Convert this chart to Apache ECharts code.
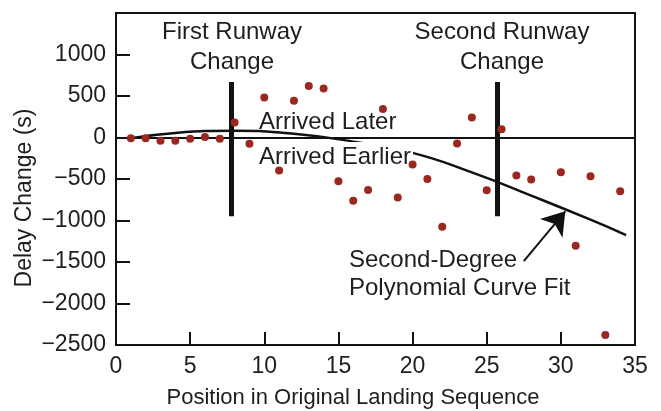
<!DOCTYPE html>
<html>
<head>
<meta charset="utf-8">
<script src="https://cdn.jsdelivr.net/npm/echarts@6/dist/echarts.min.js"></script>
<style>html,body{margin:0;padding:0;background:#fff;}#c{width:661px;height:411px;}</style>
</head>
<body>
<div id="c"></div>
<script>
// Observed data
const positions = [1,2,3,4,5,6,7,8,9,10,11,12,13,14,15,16,17,18,19,20,21,22,23,24,25,26,27,28,30,31,32,33,34];
const delays = [-10,-10,-40,-40,-15,5,-15,180,-75,483,-398,443,621,589,-528,-762,-633,342,-722,-326,-500,-1074,-71,241,-637,99,-459,-507,-419,-1305,-467,-2381,-649];
// Second-degree polynomial fit
const fitX = [1,4,8,12,16,20,24,28,32,34.4];
const fitY = [-10,55,80,45,-50,-185,-420,-700,-990,-1175];
// Runway change markers
const runwayX = [7.8, 25.7];
const runwaySpan = [670, -950];
// Arrow (tail -> head) in data units
const arrowFrom = [27.5, -1490];
const arrowTo = [30.3, -890];
// Axis ticks
const xTicks = [0,5,10,15,20,25,30,35];
const yTicks = [-2500,-2000,-1500,-1000,-500,0,500,1000];

const FONT = 'Liberation Sans, Arial, Helvetica, sans-serif';
const TXT = '#1e1e1e';
const chart = echarts.init(document.getElementById('c'), null, {renderer:'canvas'});
const fmtY = v => v < 0 ? '\u2212' + Math.abs(v) : String(v);
const solid = (w) => ({color:'#111', width:w, type:'solid'});

chart.setOption({
  animation: false,
  backgroundColor: '#fff',
  grid: {left:116, right:26, top:13, bottom:66, show:true, borderColor:'#111', borderWidth:2},
  xAxis: {
    type:'value', min:xTicks[0], max:xTicks[xTicks.length-1], interval:5,
    axisLine:{show:true, onZero:false, lineStyle:{color:'#111', width:2}},
    axisTick:{show:true, inside:true, length:13, lineStyle:{color:'#111', width:2}},
    axisLabel:{fontFamily:FONT, fontSize:23, color:TXT, margin:10},
    splitLine:{show:false}
  },
  yAxis: {
    type:'value', min:yTicks[0], max:1500, interval:500,
    axisLine:{show:true, onZero:false, lineStyle:{color:'#111', width:2}},
    axisTick:{show:true, inside:true, length:14, lineStyle:{color:'#111', width:2}},
    axisLabel:{fontFamily:FONT, fontSize:23, color:TXT, margin:10, showMaxLabel:false,
      formatter: v => yTicks.indexOf(v) >= 0 ? fmtY(v) : ''},
    splitLine:{show:false}
  },
  series: [
    {
      type:'line', data: fitX.map((x,i)=>[x, fitY[i]]), smooth:true, showSymbol:false,
      lineStyle:{color:'#111', width:2.5}, z:3
    },
    {
      type:'scatter', data: positions.map((x,i)=>[x, delays[i]]), symbolSize:8,
      itemStyle:{color:'#9a2820', opacity:1}, z:200,
      markLine: {
        silent:true, symbol:['none','none'], label:{show:false}, lineStyle:solid(2),
        data: [
          [{yAxis:0, x:116, lineStyle:solid(2)}, {yAxis:0, x:635}],
          [{coord:[runwayX[0], runwaySpan[0]], lineStyle:solid(5)}, {coord:[runwayX[0], runwaySpan[1]]}],
          [{coord:[runwayX[1], runwaySpan[0]], lineStyle:solid(5)}, {coord:[runwayX[1], runwaySpan[1]]}]
        ]
      }
    },
    {
      type:'line', data:[], z:200,
      markLine: {
        silent:true, symbol:['none','arrow'], symbolSize:22, label:{show:false},
        lineStyle:solid(2), itemStyle:{color:'#111'},
        data: [[{coord:arrowFrom}, {coord:arrowTo}]]
      }
    }
  ],
  graphic: [
    {type:'text', x:232, y:17, z:100, style:{text:'First Runway\nChange', font:'24px '+FONT, fill:TXT, textAlign:'center', lineHeight:30}},
    {type:'text', x:502, y:17, z:100, style:{text:'Second Runway\nChange', font:'24px '+FONT, fill:TXT, textAlign:'center', lineHeight:30}},
    {type:'text', x:259, y:110, z:100, style:{text:'Arrived Later', font:'24px '+FONT, fill:TXT, textAlign:'left'}},
    {type:'text', x:259, y:142, z:100, style:{text:'Arrived Earlier', font:'24px '+FONT, fill:TXT, textAlign:'left', backgroundColor:'#fff', padding:[3,2,0,0]}},
    {type:'text', x:349, y:246, z:100, style:{text:'Second-Degree\nPolynomial Curve Fit', font:'24px '+FONT, fill:TXT, textAlign:'left', lineHeight:28}},
    {type:'text', x:353, y:387, z:100, style:{text:'Position in Original Landing Sequence', font:'22px '+FONT, fill:TXT, textAlign:'center'}},
    {type:'text', x:25, y:198, z:100, rotation:Math.PI/2, style:{text:'Delay Change (s)', font:'23px '+FONT, fill:TXT, textAlign:'center', textVerticalAlign:'middle'}}
  ]
});
</script>
</body>
</html>
